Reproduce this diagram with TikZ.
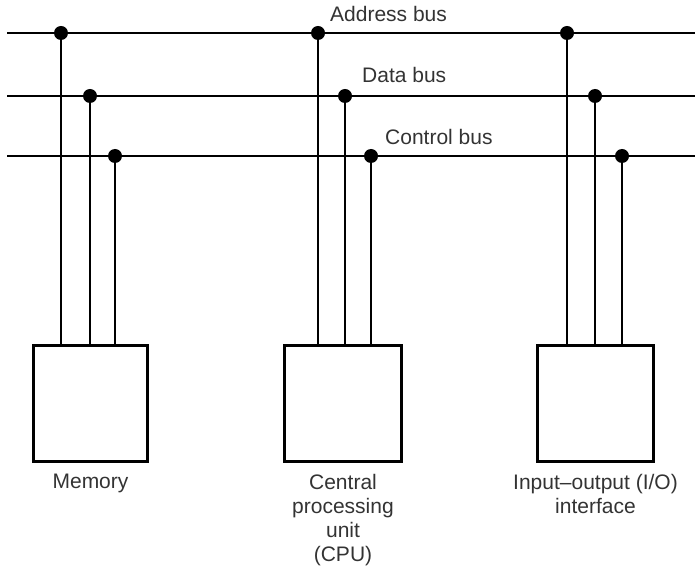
\documentclass[tikz,border=0pt]{standalone}
\usepackage{fontspec}
\setmainfont{Liberation Sans}
\usetikzlibrary{positioning}
\begin{document}
\begin{tikzpicture}[x=1pt, y=1pt,
  unitBox/.style={rectangle, draw, line width=3pt, minimum height=116pt, inner sep=0pt},
  busLine/.style={line width=2pt},
  unitLabel/.style={align=center, text=black!80, font=\fontsize{21}{24}\selectfont, inner sep=0pt},
  busLabel/.style={anchor=base west, text=black!80, font=\fontsize{21}{24}\selectfont, inner sep=0pt}
]
\useasboundingbox (0,0) rectangle (695,568);
% the three buses
\coordinate (addrL) at (7,535);
\coordinate (addrR) at (695,535);
\coordinate (dataL) at (7,472);
\coordinate (dataR) at (695,472);
\coordinate (ctrlL) at (7,412);
\coordinate (ctrlR) at (695,412);
\draw[busLine] (addrL)--(addrR);
\draw[busLine] (dataL)--(dataR);
\draw[busLine] (ctrlL)--(ctrlR);
\node[busLabel] (addrText) at (330,546){Address bus};
\node[busLabel] (dataText) at (362,485){Data bus};
\node[busLabel] (ctrlText) at (385,423){Control bus};
% the units
\node[unitBox, minimum width=114pt] (mem) at (90.5,164.5){};
\node[unitBox, minimum width=117pt] (cpu) at (343,164.5){};
\node[unitBox, minimum width=116pt] (io) at (595.5,164.5){};
\node[unitLabel, below=11pt of mem] (memText){Memory};
\node[unitLabel, below=11pt of cpu] (cpuText){Central\\processing\\unit\\(CPU)};
\node[unitLabel, below=11pt of io] (ioText){Input--output (I/O)\\interface};
% taps
\coordinate (memA) at (61,535);
\coordinate (memD) at (90,472);
\coordinate (memC) at (115,412);
\coordinate (cpuA) at (318,535);
\coordinate (cpuD) at (345,472);
\coordinate (cpuC) at (371,412);
\coordinate (ioA) at (567,535);
\coordinate (ioD) at (595,472);
\coordinate (ioC) at (622,412);
\draw[busLine] (memA)--(memA |- mem.north);
\draw[busLine] (memD)--(memD |- mem.north);
\draw[busLine] (memC)--(memC |- mem.north);
\draw[busLine] (cpuA)--(cpuA |- cpu.north);
\draw[busLine] (cpuD)--(cpuD |- cpu.north);
\draw[busLine] (cpuC)--(cpuC |- cpu.north);
\draw[busLine] (ioA)--(ioA |- io.north);
\draw[busLine] (ioD)--(ioD |- io.north);
\draw[busLine] (ioC)--(ioC |- io.north);
\fill (memA) circle[radius=7pt];
\fill (memD) circle[radius=7pt];
\fill (memC) circle[radius=7pt];
\fill (cpuA) circle[radius=7pt];
\fill (cpuD) circle[radius=7pt];
\fill (cpuC) circle[radius=7pt];
\fill (ioA) circle[radius=7pt];
\fill (ioD) circle[radius=7pt];
\fill (ioC) circle[radius=7pt];
\end{tikzpicture}
\end{document}
